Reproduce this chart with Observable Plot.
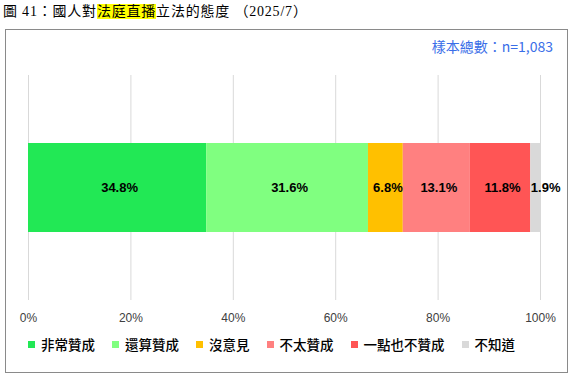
<!DOCTYPE html>
<html>
<head>
<meta charset="utf-8">
<script src="https://cdn.jsdelivr.net/npm/d3@7"></script>
<script src="https://cdn.jsdelivr.net/npm/@observablehq/plot@0.6"></script>
<style>
  html, body { margin: 0; padding: 0; background: #fff; }
  #wrap { position: relative; width: 572px; height: 377px; overflow: hidden; }
  #title { position: absolute; left: 3px; top: 2px; font-family: "Liberation Serif", "Noto Sans CJK TC", serif; font-size: 14px; letter-spacing: 0.8px; color: #000; white-space: nowrap; line-height: 20px; }
  #title .hl { background: #ffff00; }
  #box { position: absolute; left: 5px; top: 29px; width: 561px; height: 342px; border: 1px solid #8a8a8a; }
  #n { position: absolute; right: 19px; top: 37px; font-family: "Noto Sans CJK TC", sans-serif; font-weight: 400; font-size: 14px; color: #3a6ee8; line-height: 18px; }
  #chart { position: absolute; left: 0; top: 0; }
  #legend { position: absolute; left: 28px; top: 335px; display: flex; font-family: "Noto Sans CJK TC", sans-serif; font-weight: 500; font-size: 13.5px; color: #000; line-height: 18px; white-space: nowrap; }
  #legend .item { display: flex; align-items: center; margin-right: 17px; }
  #legend .sw { width: 7px; height: 7px; margin-right: 6px; }
</style>
</head>
<body>
<div id="wrap">
  <div id="box"></div>
  <div id="title">圖 41：國人對<span class="hl">法庭直播</span>立法的態度 （2025/7）</div>
  <div id="n">樣本總數：n=1,083</div>
  <div id="chart"></div>
  <div id="legend"></div>
</div>
<script>
const categories = ["非常贊成", "還算贊成", "沒意見", "不太贊成", "一點也不贊成", "不知道"];
const values = [34.8, 31.6, 6.8, 13.1, 11.8, 1.9];
const colors = ["#22e855", "#80ff80", "#ffc000", "#ff8080", "#ff5555", "#d9d9d9"];
const tickValues = [0, 20, 40, 60, 80, 100];

const data = categories.map((c, i) => ({category: c, value: values[i], label: values[i].toFixed(1) + "%"}));
const row = () => "all";

const chart = Plot.plot({
  width: 572,
  height: 377,
  marginTop: 75,
  marginBottom: 77,
  marginLeft: 28,
  marginRight: 32,
  style: {fontFamily: "Liberation Sans, Arial, sans-serif", background: "transparent"},
  x: {domain: [0, 100], label: null},
  y: {padding: 0.433, axis: null},
  color: {domain: categories, range: colors},
  marks: [
    Plot.gridX(tickValues, {stroke: "#d9d9d9", strokeOpacity: 1, strokeWidth: 1}),
    Plot.axisX({ticks: tickValues, tickFormat: d => d + "%", tickSize: 0, tickPadding: 13, fontSize: 12, color: "#404040", label: null}),
    Plot.barX(data, Plot.stackX({x: "value", y: row, fill: "category", order: null})),
    Plot.text(data, Plot.filter(d => d.value >= 3, Plot.stackX({x: "value", y: row, text: "label", order: null, fontSize: 13, fontWeight: "bold", fill: "#000", dx: 2}))),
    Plot.text(data, Plot.filter(d => d.value < 3, Plot.stackX({x: "value", y: row, text: "label", order: null, fontSize: 13, fontWeight: "bold", fill: "#000", dx: 10})))
  ]
});
document.getElementById("chart").appendChild(chart);

const legend = document.getElementById("legend");
categories.forEach((c, i) => {
  const item = document.createElement("div");
  item.className = "item";
  const sw = document.createElement("span");
  sw.className = "sw";
  sw.style.background = colors[i];
  const t = document.createElement("span");
  t.textContent = c;
  item.appendChild(sw);
  item.appendChild(t);
  legend.appendChild(item);
});
</script>
</body>
</html>
